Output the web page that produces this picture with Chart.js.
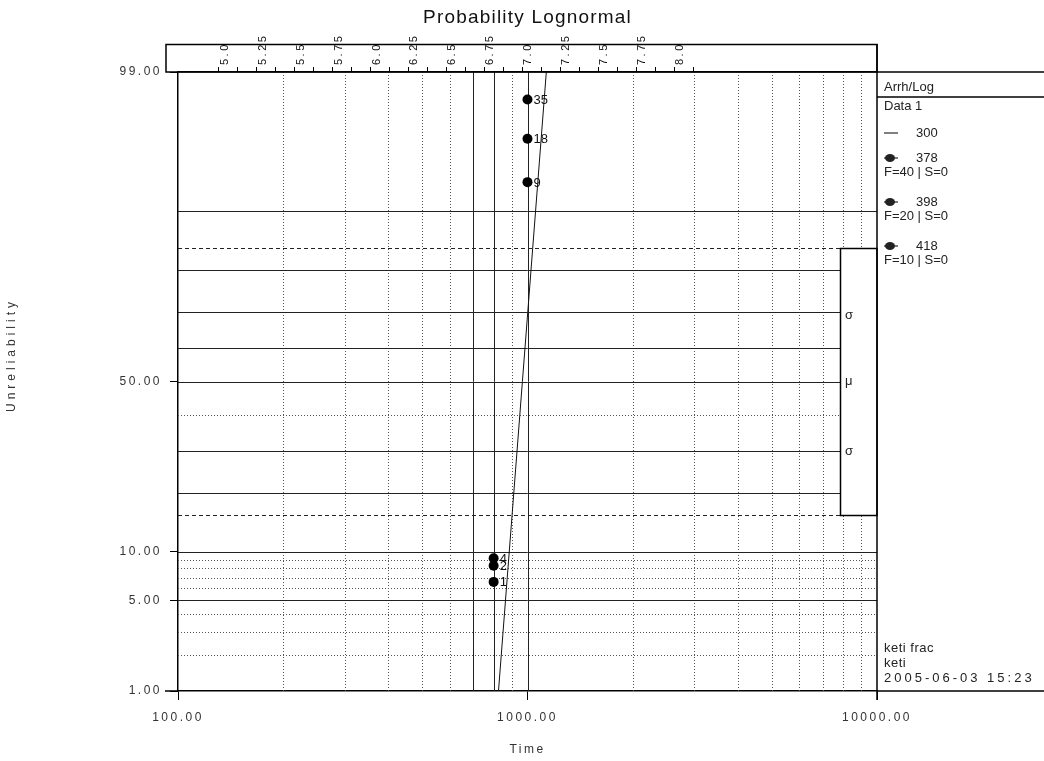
<!DOCTYPE html>
<html><head><meta charset="utf-8">
<script src="https://cdn.jsdelivr.net/npm/chart.js@4.4.1/dist/chart.umd.min.js"></script>
<style>html,body{margin:0;padding:0;background:#fff;}#wrap{width:1044px;height:761px;}</style>
</head><body><div id="wrap"><canvas id="c" width="1044" height="761"></canvas></div>
<script>
// ---------------- data ----------------
const chartTitle = 'Probability Lognormal';
const xTitle = 'Time';
const yTitle = 'Unreliability';
const legendHeader = 'Arrh/Log';
const legendGroup = 'Data 1';
const seriesNames = ['378', '398', '418'];
const failuresF = [40, 20, 10];
const suspensionsS = [0, 0, 0];
const times378 = [800, 1000];
const unrel378 = [9.2, 98.3];
const counts378 = ['4', '35'];
const times398 = [800, 1000];
const unrel398 = [8.3, 96.6];
const counts398 = ['2', '18'];
const times418 = [800, 1000];
const unrel418 = [6.6, 93.3];
const counts418 = ['1', '9'];
const fitName = '300';
const fitTimes = [826, 1132];
const fitUnrel = [1, 99];
const xMin = 100, xMax = 10000;
const yMin = 1, yMax = 99;
const xTicks = [100, 1000, 10000];
const yTicks = [1, 5, 10, 50, 99];
const topMajor = [5.0, 5.25, 5.5, 5.75, 6.0, 6.25, 6.5, 6.75, 7.0, 7.25, 7.5, 7.75, 8.0];
const topMinor = [4.875, 5.125, 5.375, 5.625, 5.875, 6.125, 6.375, 6.625, 6.875, 7.125, 7.375, 7.625, 7.875];
const xGridSolid = [700, 800, 1000];
const xGridDotted = [200, 300, 400, 500, 600, 900, 2000, 3000, 4000, 5000, 6000, 7000, 8000, 9000];
const yGridSolid = [5, 10, 20, 30, 50, 60, 70, 80, 90];
const yGridDotted = [2, 3, 4, 6, 7, 8, 9, 40];
const yGridDashed = [15.87, 84.13];
const bandPos = [69, 50, 30];
const bandText = ['σ', 'μ', 'σ'];
const footerLines = ['keti frac', 'keti', '2005-06-03 15:23'];

// ---------------- helpers ----------------
const FONT = "'Liberation Sans', Arial, sans-serif";
function probit(p){
  const a=[-3.969683028665376e+01,2.209460984245205e+02,-2.759285104469687e+02,1.383577518672690e+02,-3.066479806614716e+01,2.506628277459239e+00];
  const b=[-5.447609879822406e+01,1.615858368580409e+02,-1.556989798598866e+02,6.680131188771972e+01,-1.328068155288572e+01];
  const c=[-7.784894002430293e-03,-3.223964580411365e-01,-2.400758277161838e+00,-2.549732539343734e+00,4.374664141464968e+00,2.938163982698783e+00];
  const d=[7.784695709041462e-03,3.224671290700398e-01,2.445134137142996e+00,3.754408661907416e+00];
  const pl=0.02425, ph=1-pl; let q, r;
  if (p < pl) { q=Math.sqrt(-2*Math.log(p)); return (((((c[0]*q+c[1])*q+c[2])*q+c[3])*q+c[4])*q+c[5])/((((d[0]*q+d[1])*q+d[2])*q+d[3])*q+1); }
  if (p <= ph) { q=p-0.5; r=q*q; return (((((a[0]*r+a[1])*r+a[2])*r+a[3])*r+a[4])*r+a[5])*q/(((((b[0]*r+b[1])*r+b[2])*r+b[3])*r+b[4])*r+1); }
  q=Math.sqrt(-2*Math.log(1-p)); return -(((((c[0]*q+c[1])*q+c[2])*q+c[3])*q+c[4])*q+c[5])/((((d[0]*q+d[1])*q+d[2])*q+d[3])*q+1);
}
function normcdf(z){ const t=1/(1+0.3275911*Math.abs(z)/Math.SQRT2); const y=1-(((((1.061405429*t-1.453152027)*t)+1.421413741)*t-0.284496736)*t+0.254829592)*t*Math.exp(-z*z/2); return 0.5*(1+(z>=0?y:-y)); }

class ProbabilityScale extends Chart.Scale {
  static id = 'probability';
  static defaults = {};
  determineDataLimits(){ this.min = this.options.min; this.max = this.options.max; }
  buildTicks(){ return yTicks.map(v => ({value: v})); }
  getLabelForValue(v){ return Number(v).toFixed(2); }
  getPixelForValue(v){
    const a = probit(this.min/100), b = probit(this.max/100);
    return this.getPixelForDecimal((probit(v/100) - a) / (b - a));
  }
  getPixelForTick(i){ return this.getPixelForValue(this.ticks[i].value); }
  getValueForPixel(px){
    const a = probit(this.min/100), b = probit(this.max/100);
    return 100*normcdf(a + this.getDecimalForPixel(px)*(b - a));
  }
}
Chart.register(ProbabilityScale);

function pts(xs, ys){ return xs.map((x, i) => ({x: x, y: ys[i]})); }
const pointSets = [
  {times: times378, unrel: unrel378, counts: counts378},
  {times: times398, unrel: unrel398, counts: counts398},
  {times: times418, unrel: unrel418, counts: counts418}
];

const datasets = [
  {label: fitName, data: pts(fitTimes, fitUnrel), showLine: true, borderColor: '#111', borderWidth: 1, pointRadius: 0, kind: 'line'}
].concat(pointSets.map((s, i) => ({
  label: seriesNames[i], data: pts(s.times, s.unrel), showLine: false,
  pointRadius: 5, pointBackgroundColor: '#000', pointBorderColor: '#000', pointBorderWidth: 0,
  counts: s.counts, kind: 'points', F: failuresF[i], S: suspensionsS[i]
})));

function hline(ctx, x1, x2, y){ ctx.beginPath(); ctx.moveTo(x1, y); ctx.lineTo(x2, y); ctx.stroke(); }
function vline(ctx, x, y1, y2){ ctx.beginPath(); ctx.moveTo(x, y1); ctx.lineTo(x, y2); ctx.stroke(); }
const px = v => Math.round(v) + 0.5;
const TOP_BOX = 28;

const decor = {
  id: 'decor',
  beforeDraw(chart){ chart.ctx.letterSpacing = '2.5px'; },
  beforeDatasetsDraw(chart){
    const ctx = chart.ctx, a = chart.chartArea, xs = chart.scales.x, ys = chart.scales.y;
    ctx.letterSpacing = '0px';
    ctx.save();
    ctx.lineWidth = 1;
    ctx.strokeStyle = '#555'; ctx.setLineDash([1, 2]);
    xGridDotted.forEach(v => vline(ctx, px(xs.getPixelForValue(v)), a.top, a.bottom));
    ctx.strokeStyle = '#222'; ctx.setLineDash([]);
    xGridSolid.forEach(v => vline(ctx, px(xs.getPixelForValue(v)), a.top, a.bottom));
    ctx.strokeStyle = '#555'; ctx.setLineDash([1, 2]);
    yGridDotted.forEach(v => hline(ctx, a.left, a.right, px(ys.getPixelForValue(v))));
    ctx.strokeStyle = '#222'; ctx.setLineDash([]);
    yGridSolid.forEach(v => hline(ctx, a.left, a.right, px(ys.getPixelForValue(v))));
    ctx.strokeStyle = '#222'; ctx.setLineDash([4, 3]);
    yGridDashed.forEach(v => hline(ctx, a.left, a.right, px(ys.getPixelForValue(v))));
    ctx.setLineDash([]);
    // mu / sigma band box
    const bx = a.right - 37;
    const by1 = px(ys.getPixelForValue(yGridDashed[1])), by2 = px(ys.getPixelForValue(yGridDashed[0]));
    ctx.fillStyle = '#fff'; ctx.fillRect(bx, by1, a.right - bx, by2 - by1);
    ctx.strokeStyle = '#000'; ctx.lineWidth = 1.5; ctx.strokeRect(px(bx), by1, a.right - px(bx), by2 - by1);
    ctx.fillStyle = '#222'; ctx.font = '13px ' + FONT; ctx.textAlign = 'left'; ctx.textBaseline = 'middle';
    bandPos.forEach((p, i) => ctx.fillText(bandText[i], bx + 5, ys.getPixelForValue(p)));
    ctx.restore();
  },
  afterDraw(chart){
    const ctx = chart.ctx, a = chart.chartArea, W = chart.width;
    const boxTop = a.top - TOP_BOX;
    ctx.save();
    ctx.letterSpacing = '0px';
    ctx.strokeStyle = '#000'; ctx.lineWidth = 1.5;
    // top axis box
    ctx.strokeRect(a.left - 12, px(boxTop), a.right - (a.left - 12), a.top - px(boxTop));
    // right border + legend frame lines
    vline(ctx, a.right, boxTop, a.bottom + 9);
    hline(ctx, a.right, W, a.top);
    hline(ctx, a.right, W, a.bottom);
    hline(ctx, a.left - 13, a.left, a.bottom);
    hline(ctx, a.right, W, a.top + 25);
    // title
    ctx.fillStyle = '#111'; ctx.textAlign = 'center'; ctx.textBaseline = 'middle';
    ctx.font = '19px ' + FONT; ctx.letterSpacing = '1.2px';
    ctx.fillText(chartTitle, (a.left + a.right) / 2, 18);
    // y title
    ctx.save();
    ctx.translate(12, 355); ctx.rotate(-Math.PI / 2);
    ctx.fillStyle = '#333'; ctx.font = '12px ' + FONT; ctx.letterSpacing = '4px';
    ctx.fillText(yTitle, 0, 0);
    ctx.restore();
    ctx.letterSpacing = '0px';
    // point count labels
    ctx.fillStyle = '#111'; ctx.font = '13px ' + FONT; ctx.textAlign = 'left'; ctx.textBaseline = 'middle';
    chart.data.datasets.forEach((ds, di) => {
      if (ds.kind !== 'points') return;
      chart.getDatasetMeta(di).data.forEach((el, i) => ctx.fillText(ds.counts[i], el.x + 6, el.y + 1));
    });
    // legend
    const lx = a.right + 7;
    ctx.fillStyle = '#222'; ctx.font = '13px ' + FONT;
    ctx.fillText(legendHeader, lx, a.top + 15);
    ctx.fillText(legendGroup, lx, a.top + 34);
    let y = a.top + 61;
    ctx.lineWidth = 1;
    chart.data.datasets.forEach(ds => {
      if (ds.kind === 'line') {
        hline(ctx, lx, lx + 14, y);
        ctx.fillText(ds.label, lx + 32, y);
        y += 25;
      } else {
        hline(ctx, lx, lx + 14, y);
        ctx.beginPath(); ctx.ellipse(lx + 6, y, 5, 4, 0, 0, Math.PI * 2); ctx.fill();
        ctx.fillText(ds.label, lx + 32, y);
        ctx.fillText('F=' + ds.F + ' | S=' + ds.S, lx, y + 14);
        y += 44;
      }
    });
    // footer
    footerLines.forEach((t, i) => {
      ctx.letterSpacing = (i === footerLines.length - 1) ? '3px' : '0.5px';
      ctx.fillText(t, lx, a.bottom - 43 + i * 15);
    });
    ctx.restore();
  }
};

new Chart(document.getElementById('c'), {
  type: 'scatter',
  data: {datasets: datasets},
  plugins: [decor],
  options: {
    responsive: false, animation: false, devicePixelRatio: 1,
    layout: {padding: {left: 0, right: 167, top: 34, bottom: 0}},
    plugins: {legend: {display: false}, tooltip: {enabled: false}, title: {display: false}},
    scales: {
      x: {
        type: 'logarithmic', position: 'bottom', min: xMin, max: xMax,
        afterBuildTicks: s => { s.ticks = xTicks.map(v => ({value: v})); },
        afterFit: s => { s.height = 70; },
        ticks: {callback: v => Number(v).toFixed(2), color: '#333', font: {family: FONT, size: 12}, padding: 10, maxRotation: 0, autoSkip: false},
        grid: {drawOnChartArea: false, drawTicks: true, tickLength: 9, tickColor: '#000'},
        border: {display: true, color: '#000', width: 1.5},
        title: {display: true, text: xTitle, color: '#333', font: {family: FONT, size: 12}, padding: {top: 0, bottom: 4}}
      },
      x2: {
        type: 'linear', position: 'top', min: Math.log(xMin), max: Math.log(xMax),
        afterBuildTicks: s => { s.ticks = topMajor.concat(topMinor).sort((p, q) => p - q).map(v => ({value: v})); },
        afterFit: s => { s.height = 38; },
        ticks: {callback: v => topMajor.indexOf(v) >= 0 ? (Number.isInteger(v) ? v.toFixed(1) : String(v)) : '', color: '#111', font: {family: FONT, size: 11}, padding: 2, minRotation: 90, maxRotation: 90, autoSkip: false},
        grid: {drawOnChartArea: false, drawTicks: true, tickLength: 5, tickColor: '#000'},
        border: {display: true, color: '#000', width: 1.5}
      },
      y: {
        type: 'probability', position: 'left', min: yMin, max: yMax,
        afterFit: s => { s.width = 178; },
        ticks: {callback: v => Number(v).toFixed(2), color: '#333', font: {family: FONT, size: 12}, padding: 8, autoSkip: false},
        grid: {drawOnChartArea: false, drawTicks: true, tickLength: 8, tickColor: '#000'},
        border: {display: true, color: '#000', width: 1.5}
      }
    }
  }
});
</script></body></html>
